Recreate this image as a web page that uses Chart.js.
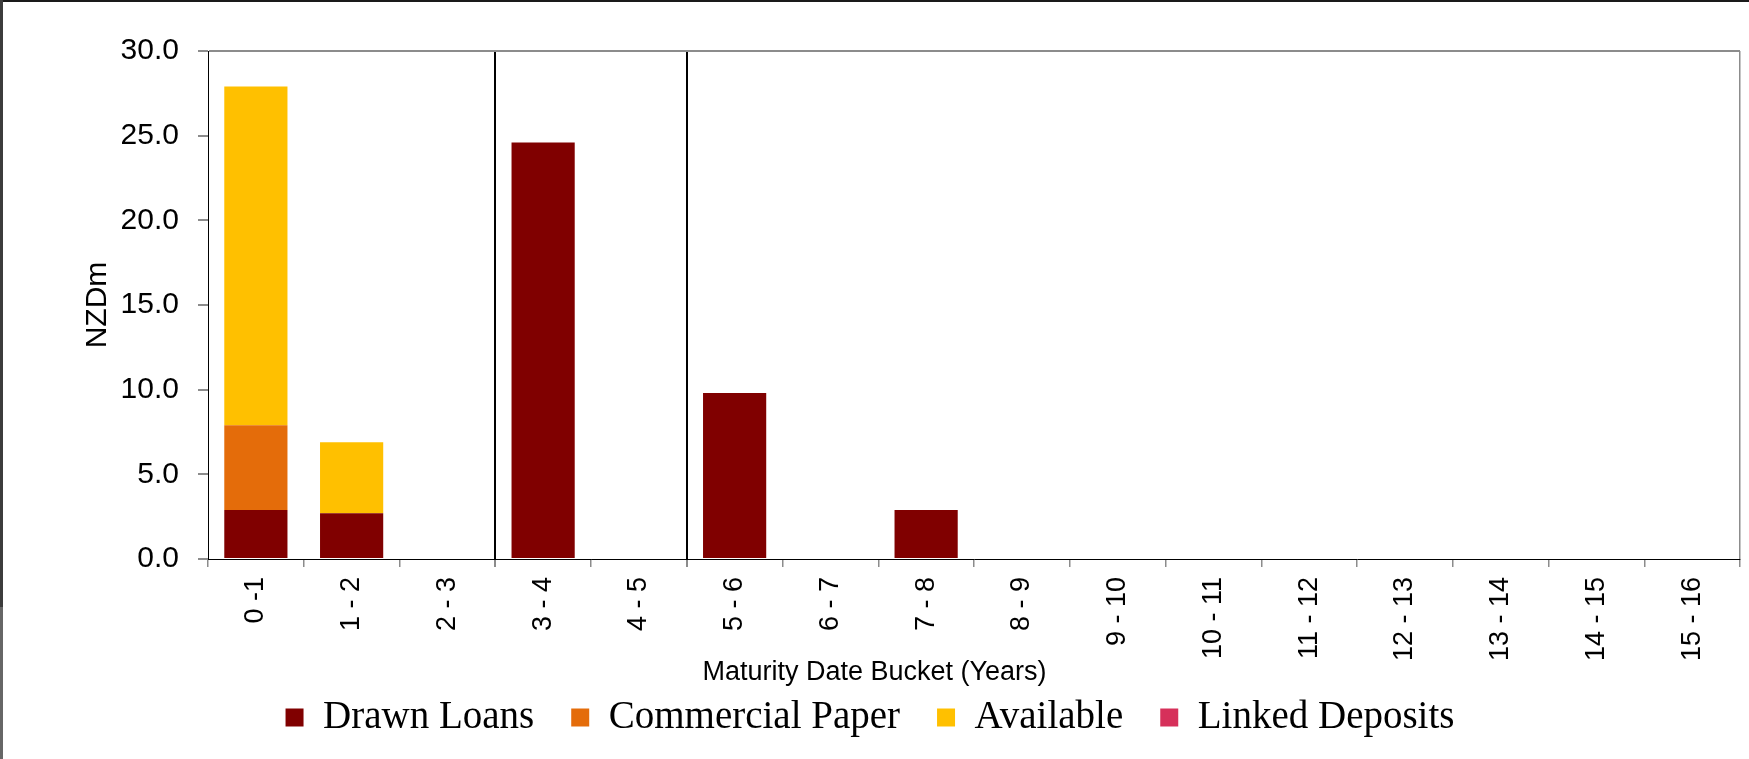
<!DOCTYPE html>
<html>
<head>
<meta charset="utf-8">
<title>Debt maturity profile</title>
<script src="https://cdn.jsdelivr.net/npm/chart.js@4/dist/chart.umd.min.js"></script>
<style>
    body { margin: 0; background: #fff; }
    #wrap { position: relative; width: 1749px; height: 759px; }
    #edge-top { position: absolute; left: 0; top: 0; width: 1749px; height: 2px; background: #1a1a1a; }
    #edge-left { position: absolute; left: 0; top: 0; width: 3px; height: 607px; background: #3c3c3c; }
    #edge-left-low { position: absolute; left: 0; top: 607px; width: 3px; height: 152px; background: #666; }
</style>
</head>
<body>
<div id="wrap">
    <canvas id="maturity-chart"></canvas>
    <div id="edge-top"></div>
    <div id="edge-left"></div>
    <div id="edge-left-low"></div>
</div>
<script>
const buckets = ["0 -1", "1 - 2", "2 - 3", "3 - 4", "4 - 5", "5 - 6", "6 - 7", "7 - 8",
    "8 - 9", "9 - 10", "10 - 11", "11 - 12", "12 - 13", "13 - 14", "14 - 15", "15 - 16"];

// NZD millions per maturity bucket
const drawnLoans      = [2.9, 2.7, 0, 24.6, 0, 9.8, 0, 2.9, 0, 0, 0, 0, 0, 0, 0, 0];
const commercialPaper = [5.0, 0, 0, 0, 0, 0, 0, 0, 0, 0, 0, 0, 0, 0, 0, 0];
const available       = [20.0, 4.2, 0, 0, 0, 0, 0, 0, 0, 0, 0, 0, 0, 0, 0, 0];
const linkedDeposits  = [0, 0, 0, 0, 0, 0, 0, 0, 0, 0, 0, 0, 0, 0, 0, 0];

const yTicks = [0, 5, 10, 15, 20, 25, 30];
// bucket boundaries that get a solid divider line
const dividers = [3, 5];

const sans = '"Liberation Sans", Arial, sans-serif';
const serif = '"Liberation Serif", "Times New Roman", serif';

// axis title sits centred on the whole canvas, above the legend
const bucketTitle = {
    id: "bucketTitle",
    afterDraw(chart) {
        const { ctx, chartArea } = chart;
        ctx.save();
        ctx.font = "27px " + sans;
        ctx.fillStyle = "#000";
        ctx.textAlign = "center";
        ctx.textBaseline = "middle";
        ctx.fillText("Maturity Date Bucket (Years)", chart.width / 2, chartArea.bottom + 114);
        ctx.restore();
    }
};

new Chart(document.getElementById("maturity-chart"), {
    type: "bar",
    data: {
        labels: buckets,
        datasets: [
            { label: "Drawn Loans", data: drawnLoans, backgroundColor: "#800000" },
            { label: "Commercial Paper", data: commercialPaper, backgroundColor: "#E46C0A" },
            { label: "Available", data: available, backgroundColor: "#FFC000" },
            { label: "Linked Deposits", data: linkedDeposits, backgroundColor: "#D6305A" }
        ]
    },
    options: {
        responsive: true,
        maintainAspectRatio: false,
        animation: false,
        datasets: {
            bar: { barPercentage: 0.66, categoryPercentage: 1.0, borderWidth: 0 }
        },
        layout: { padding: { top: 51, left: 0, right: 9, bottom: 12 } },
        scales: {
            x: {
                stacked: true,
                offset: true,
                // tall enough that the rotated labels are not clipped
                afterFit: (s) => { s.height = 102; },
                border: { color: "#000", width: 1 },
                grid: {
                    offset: true,
                    color: (ctx) => {
                        if (ctx.type !== "tick") return "#8c8c8c";
                        return dividers.includes(ctx.index) ? "#000" : "transparent";
                    },
                    lineWidth: (ctx) => (ctx.type === "tick" && dividers.includes(ctx.index)) ? 2 : 1.5,
                    tickColor: "#8c8c8c",
                    tickLength: 8
                },
                ticks: {
                    autoSkip: false,
                    maxRotation: 90,
                    minRotation: 90,
                    padding: 10,
                    color: "#000",
                    font: { family: sans, size: 27 }
                }
            },
            y: {
                stacked: true,
                min: 0,
                max: 30,
                afterFit: (s) => { s.width = 208; },
                afterBuildTicks: (s) => { s.ticks = yTicks.map((v) => ({ value: v })); },
                border: { color: "#000", width: 1 },
                grid: {
                    color: (ctx) => ctx.tick && ctx.tick.value === 30 ? "#8c8c8c" : "transparent",
                    lineWidth: 2,
                    tickColor: "#8c8c8c",
                    tickLength: 10
                },
                ticks: {
                    padding: 19,
                    color: "#000",
                    font: { family: sans, size: 30 },
                    callback: (v) => Number(v).toFixed(1)
                },
                title: {
                    display: true,
                    text: "NZDm",
                    color: "#000",
                    font: { family: sans, size: 30 },
                    padding: { top: 80, bottom: 0 }
                }
            }
        },
        plugins: {
            legend: {
                position: "bottom",
                labels: {
                    boxWidth: 18,
                    boxHeight: 18,
                    padding: 37,
                    color: "#000",
                    font: { family: serif, size: 39 }
                }
            },
            tooltip: { enabled: false }
        }
    },
    plugins: [bucketTitle]
});
</script>
</body>
</html>
